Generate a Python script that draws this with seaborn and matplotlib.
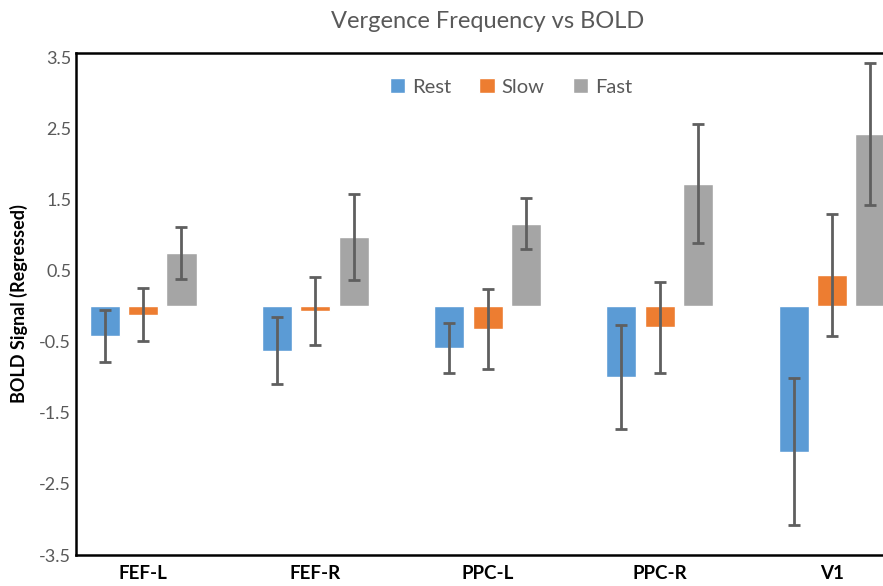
import numpy as np
import pandas as pd
import matplotlib
matplotlib.use("Agg")
import matplotlib.pyplot as plt
import matplotlib.transforms as mtransforms
import seaborn as sns

regions = ["FEF-L", "FEF-R", "PPC-L", "PPC-R", "V1"]
conditions = ["Rest", "Slow", "Fast"]
rest_vals = [-0.42, -0.63, -0.59, -1.00, -2.05]
slow_vals = [-0.12, -0.07, -0.32, -0.30, 0.44]
fast_vals = [0.74, 0.97, 1.16, 1.72, 2.42]
rest_err = [0.37, 0.47, 0.35, 0.735, 1.035]
slow_err = [0.37, 0.48, 0.565, 0.64, 0.855]
fast_err = [0.365, 0.61, 0.365, 0.84, 0.995]
yticks = [-3.5, -2.5, -1.5, -0.5, 0.5, 1.5, 2.5, 3.5]
colors = ["#5B9BD5", "#ED7D31", "#A5A5A5"]

values = {"Rest": rest_vals, "Slow": slow_vals, "Fast": fast_vals}
errors = {"Rest": rest_err, "Slow": slow_err, "Fast": fast_err}

rows = []
for c in conditions:
    for r, v in zip(regions, values[c]):
        rows.append({"region": r, "condition": c, "value": v})
df = pd.DataFrame(rows)

sns.set_style("white")
plt.rcParams["font.family"] = ["Lato", "DejaVu Sans"]

fig = plt.figure(figsize=(8.83, 5.86), dpi=100)
ax = fig.add_axes([0.0861, 0.0529, 0.9139, 0.857])

sns.barplot(data=df, x="region", y="value", hue="condition",
            order=regions, hue_order=conditions, palette=colors,
            width=0.67, gap=0.22, errorbar=None, saturation=1, ax=ax)

for cont, c in zip(ax.containers, conditions):
    xs = [b.get_x() + b.get_width() / 2 for b in cont]
    hs = [b.get_height() for b in cont]
    ax.errorbar(xs, hs, yerr=errors[c], fmt="none", ecolor="#5f5f5f",
                elinewidth=2, capsize=4, capthick=2, zorder=5)

ax.set_ylim(-3.5, 3.56)
ax.set_xlim(-0.389, 4.296)
ax.set_yticks(yticks)
ax.set_yticklabels([f"{t:.1f}" for t in yticks], color="#595959", fontsize=13)
offset = mtransforms.ScaledTranslation(0, -3 / 72, fig.dpi_scale_trans)
for lab in ax.get_yticklabels():
    lab.set_transform(lab.get_transform() + offset)
ax.tick_params(axis="both", length=0)
ax.tick_params(axis="x", pad=7)
for lab in ax.get_xticklabels():
    lab.set_fontweight("bold")
    lab.set_fontsize(13.5)
    lab.set_color("black")
ax.set_xlabel("")
ax.set_ylabel("BOLD Signal (Regressed)", fontsize=13, fontweight="bold",
              color="black", labelpad=8)

for s in ["left", "bottom", "top"]:
    ax.spines[s].set_visible(True)
    ax.spines[s].set_color("black")
    ax.spines[s].set_linewidth(1.8)
ax.spines["right"].set_visible(False)

handles, labels = ax.get_legend_handles_labels()
ax.legend(handles, labels, loc="center", bbox_to_anchor=(0.539, 0.932),
          ncol=3, frameon=False, fontsize=14.5, handlelength=0.75,
          handleheight=0.75, handletextpad=0.35, columnspacing=1.4,
          labelcolor="#595959")

fig.text(0.552, 0.963, "Vergence Frequency vs BOLD", ha="center", va="center",
         fontsize=17, color="#595959")

fig.savefig("out.png", dpi=100)
